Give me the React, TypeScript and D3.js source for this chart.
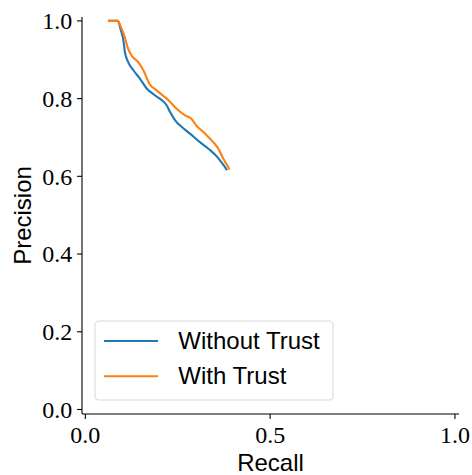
import React from "react";
import * as d3 from "d3";

const seriesNames = ["Without Trust", "With Trust"];
const seriesColors = ["#1f77b4", "#ff7f0e"];

const recallWithout = [0.064, 0.088, 0.096, 0.103, 0.107, 0.116, 0.13, 0.148, 0.166, 0.189, 0.207, 0.22, 0.229, 0.243, 0.261, 0.283, 0.31, 0.333, 0.355, 0.369, 0.382];
const precisionWithout = [1.0, 1.0, 0.976, 0.95, 0.92, 0.894, 0.873, 0.851, 0.826, 0.808, 0.796, 0.783, 0.766, 0.744, 0.727, 0.71, 0.688, 0.671, 0.652, 0.635, 0.618];

const recallWith = [0.064, 0.088, 0.098, 0.107, 0.114, 0.125, 0.143, 0.157, 0.173, 0.193, 0.225, 0.247, 0.27, 0.286, 0.301, 0.324, 0.346, 0.36, 0.373, 0.389];
const precisionWith = [1.0, 1.0, 0.98, 0.958, 0.933, 0.911, 0.894, 0.873, 0.839, 0.821, 0.796, 0.774, 0.757, 0.749, 0.73, 0.71, 0.688, 0.671, 0.646, 0.62];

const xTicks = [0.0, 0.5, 1.0];
const yTicks = [0.0, 0.2, 0.4, 0.6, 0.8, 1.0];

const W = 472;
const H = 475;

export default function App() {
  const x = d3.scaleLinear().domain([-0.009, 1.011]).range([82, 459]);
  const y = d3.scaleLinear().domain([-0.0116, 1.01]).range([414, 17]);

  const line = d3
    .line<[number, number]>()
    .x((d) => x(d[0]))
    .y((d) => y(d[1]))
    .curve(d3.curveMonotoneX);

  const series = [
    recallWithout.map((r, i) => [r, precisionWithout[i]] as [number, number]),
    recallWith.map((r, i) => [r, precisionWith[i]] as [number, number]),
  ];

  const [x0, x1] = x.range();
  const [yb, yt] = y.range();
  const serif = "'Liberation Serif', serif";
  const sans = "'Liberation Sans', sans-serif";

  return (
    <svg
      width={W}
      height={H}
      style={{ position: "absolute", left: 0, top: 0, background: "#fff" }}
    >
      {series.map((s, i) => (
        <path
          key={i}
          d={line(s) || ""}
          fill="none"
          stroke={seriesColors[i]}
          strokeWidth={2.1}
          strokeLinejoin="round"
          strokeLinecap="square"
        />
      ))}

      {/* spines */}
      <line x1={x0} x2={x0} y1={yb} y2={yt} stroke="#000" strokeWidth={1.1} />
      <line x1={x0} x2={x1} y1={yb} y2={yb} stroke="#000" strokeWidth={1.1} />

      {/* y ticks */}
      {yTicks.map((t) => (
        <g key={"y" + t}>
          <line x1={x0 - 4.9} x2={x0} y1={y(t)} y2={y(t)} stroke="#000" strokeWidth={1.1} />
          <text
            x={x0 - 9.8}
            y={y(t)}
            dy="0.35em"
            textAnchor="end"
            fontFamily={serif}
            fontSize={24}
            fill="#000"
          >
            {t.toFixed(1)}
          </text>
        </g>
      ))}

      {/* x ticks */}
      {xTicks.map((t) => (
        <g key={"x" + t}>
          <line x1={x(t)} x2={x(t)} y1={yb} y2={yb + 4.9} stroke="#000" strokeWidth={1.1} />
          <text
            x={x(t)}
            y={443}
            textAnchor="middle"
            fontFamily={serif}
            fontSize={24}
            fill="#000"
          >
            {t.toFixed(1)}
          </text>
        </g>
      ))}

      {/* axis labels */}
      <text
        x={(x0 + x1) / 2}
        y={470.5}
        textAnchor="middle"
        fontFamily={sans}
        fontSize={24}
        fill="#000"
      >
        Recall
      </text>
      <text
        transform={`translate(31,${(yb + yt) / 2}) rotate(-90)`}
        textAnchor="middle"
        fontFamily={sans}
        fontSize={24}
        fill="#000"
      >
        Precision
      </text>

      {/* legend */}
      <rect
        x={95}
        y={321}
        width={238}
        height={79}
        rx={4}
        ry={4}
        fill="#fff"
        fillOpacity={0.8}
        stroke="#d9d9d9"
        strokeWidth={1.1}
      />
      {seriesNames.map((n, i) => (
        <g key={n}>
          <line
            x1={104}
            x2={158}
            y1={341 + i * 35.3}
            y2={341 + i * 35.3}
            stroke={seriesColors[i]}
            strokeWidth={2.1}
          />
          <text
            x={178.3}
            y={349.3 + i * 35}
            fontFamily={sans}
            fontSize={24}
            fill="#000"
          >
            {n}
          </text>
        </g>
      ))}
    </svg>
  );
}
